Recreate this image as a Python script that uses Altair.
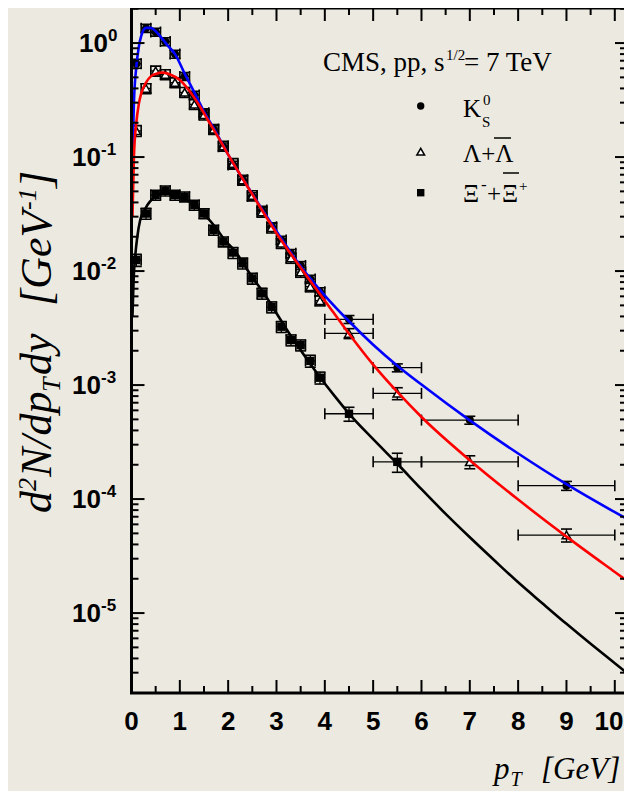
import altair as alt
import pandas as pd

# ---------------- data ----------------
# K0S (filled circles)
k_pt = [0.1, 0.3, 0.5, 0.7, 0.9, 1.1, 1.3, 1.5, 1.7, 1.9, 2.1, 2.3, 2.5, 2.7, 2.9, 3.1, 3.3, 3.5, 3.7, 3.9, 4.5, 5.5, 7.0, 9.0]
k_val = [0.66, 1.35, 1.25, 1.03, 0.80, 0.51, 0.35, 0.245, 0.175, 0.123, 0.085, 0.063, 0.045, 0.0343, 0.0245, 0.0187,
         0.0143, 0.0112, 0.0085, 0.0066, 3.77e-3, 1.42e-3, 4.93e-4, 1.31e-4]
k_dx = [0.1, 0.1, 0.1, 0.1, 0.1, 0.1, 0.1, 0.1, 0.1, 0.1, 0.1, 0.1, 0.1, 0.1, 0.1, 0.1, 0.1, 0.1, 0.1, 0.1, 0.5, 0.5, 1.0, 1.0]
k_rel = [0.09, 0.08, 0.08, 0.08, 0.08, 0.08, 0.08, 0.08, 0.08, 0.08, 0.08, 0.08, 0.08, 0.08, 0.08, 0.08, 0.08, 0.08,
         0.08, 0.08, 0.08, 0.08, 0.08, 0.09]

# Lambda + anti-Lambda (open triangles)
l_pt = [0.1, 0.3, 0.5, 0.7, 0.9, 1.1, 1.3, 1.5, 1.7, 1.9, 2.1, 2.3, 2.5, 2.7, 2.9, 3.1, 3.3, 3.5, 3.7, 3.9, 4.5, 5.5, 7.0, 9.0]
l_val = [0.17, 0.40, 0.57, 0.53, 0.45, 0.37, 0.29, 0.235, 0.175, 0.125, 0.088, 0.063, 0.046, 0.033, 0.024, 0.0175,
         0.013, 0.0098, 0.0073, 0.0055, 2.84e-3, 8.46e-4, 2.12e-4, 4.83e-5]
l_dx = [0.1, 0.1, 0.1, 0.1, 0.1, 0.1, 0.1, 0.1, 0.1, 0.1, 0.1, 0.1, 0.1, 0.1, 0.1, 0.1, 0.1, 0.1, 0.1, 0.1, 0.5, 0.5, 1.0, 1.0]
l_rel = [0.11, 0.10, 0.10, 0.10, 0.10, 0.10, 0.10, 0.10, 0.10, 0.10, 0.10, 0.10, 0.10, 0.10, 0.10, 0.10, 0.10, 0.10,
         0.10, 0.10, 0.10, 0.12, 0.13, 0.13]

# Xi- + anti-Xi+ (filled squares)
x_pt = [0.1, 0.3, 0.5, 0.7, 0.9, 1.1, 1.3, 1.5, 1.7, 1.9, 2.1, 2.3, 2.5, 2.7, 2.9, 3.1, 3.3, 3.5, 3.7, 3.9, 4.5, 5.5]
x_val = [0.0125, 0.032, 0.0464, 0.0506, 0.0464, 0.0449, 0.038, 0.032, 0.0229, 0.0181, 0.0145, 0.0117, 0.00863,
         0.00637, 0.00483, 0.00325, 0.00248, 0.00224, 0.00163, 0.00116, 5.6e-4, 2.12e-4]
x_dx = [0.1, 0.1, 0.1, 0.1, 0.1, 0.1, 0.1, 0.1, 0.1, 0.1, 0.1, 0.1, 0.1, 0.1, 0.1, 0.1, 0.1, 0.1, 0.1, 0.1, 0.5, 0.5]
x_rel = [0.12, 0.11, 0.10, 0.10, 0.10, 0.10, 0.10, 0.10, 0.10, 0.10, 0.11, 0.11, 0.11, 0.11, 0.11, 0.11, 0.11, 0.11,
         0.12, 0.12, 0.14, 0.19]

# fitted curves
blue_pt = [0.02, 0.05, 0.1, 0.15, 0.2, 0.3, 0.4, 0.5, 0.6, 0.75, 0.9, 1.1, 1.3, 1.5, 1.75, 2.0, 2.5, 3.0, 3.5, 4.0,
           4.5, 5.0, 5.5, 6.0, 7.0, 8.0, 9.0, 10.0, 10.34]
blue_val = [0.1, 0.3, 0.62, 0.92, 1.15, 1.36, 1.36, 1.27, 1.14, 0.95, 0.8, 0.54, 0.37, 0.25, 0.165, 0.105, 0.0475,
            0.0224, 0.011, 0.0061, 0.00363, 0.00226, 0.00148, 0.00101, 0.00049, 0.000251, 0.000135, 0.0000767,
            0.0000638]
red_pt = [0.02, 0.05, 0.1, 0.15, 0.2, 0.3, 0.4, 0.5, 0.65, 0.8, 1.0, 1.2, 1.4, 1.6, 1.8, 2.0, 2.5, 3.0, 3.5, 4.0,
          4.5, 5.0, 5.5, 6.0, 7.0, 8.0, 9.0, 10.0, 10.34]
red_val = [0.03, 0.1, 0.2, 0.29, 0.36, 0.45, 0.51, 0.535, 0.55, 0.53, 0.474, 0.38, 0.285, 0.205, 0.148, 0.105,
           0.047, 0.0215, 0.0107, 0.0055, 0.00282, 0.00151, 0.00087, 0.000525, 0.000219, 0.000099, 0.0000468,
           0.0000229, 0.000018]
black_pt = [0.02, 0.05, 0.07, 0.12, 0.18, 0.28, 0.38, 0.5, 0.62, 0.75, 0.9, 1.07, 1.31, 1.52, 1.73, 1.93, 2.14,
            2.5, 2.75, 3.0, 3.3, 3.6, 3.9, 4.2, 4.5, 5.0, 5.5, 6.0, 6.5, 7.0, 7.5, 8.0, 8.5, 9.0, 9.5, 10.0, 10.34]
black_val = [0.004, 0.0095, 0.0125, 0.02, 0.028, 0.035, 0.0406, 0.045, 0.048, 0.0482, 0.0465, 0.0434, 0.0379,
             0.031, 0.0245, 0.0187, 0.015, 0.0088, 0.0063, 0.00427, 0.00269, 0.00176, 0.00117, 0.000804, 0.000562,
             0.000335, 0.000204, 0.000122, 0.0000741, 0.0000462, 0.0000292, 0.0000186, 0.0000122, 0.00000804,
             0.00000537, 0.00000363, 0.00000279]

# axis ticks / labels
x_major = [0, 1, 2, 3, 4, 5, 6, 7, 8, 9]
x_labels = ["0", "1", "2", "3", "4", "5", "6", "7", "8", "9"]
x_last, x_last_label = 10, "10"
x_minor = [0.5, 1.5, 2.5, 3.5, 4.5, 5.5, 6.5, 7.5, 8.5, 9.5]
y_major = [1.0, 0.1, 0.01, 1e-3, 1e-4, 1e-5]
y_exp = ["0", "-1", "-2", "-3", "-4", "-5"]

W, H = 492.5, 685
X_MAX = W / 48.33
Y_MIN, Y_MAX = 1.99e-6, 2.03

y_minor = [m * 10.0 ** e for e in range(-6, 1) for m in range(2, 10) if Y_MIN * 1.02 < m * 10.0 ** e < Y_MAX]

# ---------------- build tables ----------------
def series_df(pt, val, dx, rel, name):
    df = pd.DataFrame({"pt": pt, "val": val, "dx": dx, "rel": rel})
    df["lo"] = df["val"] * (1 - df["rel"])
    df["hi"] = df["val"] * (1 + df["rel"])
    df["xlo"] = df["pt"] - df["dx"]
    df["xhi"] = df["pt"] + df["dx"]
    df["series"] = name
    return df

kdf = series_df(k_pt, k_val, k_dx, k_rel, "K")
ldf = series_df(l_pt, l_val, l_dx, l_rel, "L")
xdf = series_df(x_pt, x_val, x_dx, x_rel, "X")
pts = pd.concat([kdf, ldf, xdf], ignore_index=True)

xs = alt.Scale(domain=[0, X_MAX], nice=False, zero=False)
ys = alt.Scale(type="log", domain=[Y_MIN, Y_MAX], nice=False)


def X(f):
    return alt.X(f, type="quantitative", scale=xs, axis=None)


def Y(f):
    return alt.Y(f, type="quantitative", scale=ys, axis=None)


one = pd.DataFrame({"a": [0]})
SERIF = "Liberation Serif"
SANS = "Liberation Sans"


def txt(s, x, y, size, font=SERIF, style="normal", weight="normal", align="left", angle=0):
    return alt.Chart(one).mark_text(text=s, font=font, fontSize=size, fontStyle=style, fontWeight=weight,
                                    align=align, baseline="alphabetic", angle=angle, color="black").encode(
        x=alt.value(x), y=alt.value(y))


def hline(x1, x2, y, w=1.5):
    return alt.Chart(one).mark_rule(color="black", strokeWidth=w).encode(
        x=alt.value(x1), x2=alt.value(x2), y=alt.value(y))


layers = []

# error bars
base = alt.Chart(pts)
layers.append(base.mark_rule(color="black", strokeWidth=1.3, clip=True).encode(x=X("pt"), y=Y("lo"), y2=alt.Y2("hi")))
layers.append(base.mark_rule(color="black", strokeWidth=1.3, clip=True).encode(x=X("xlo"), x2=alt.X2("xhi"), y=Y("val")))
for f in ["lo", "hi"]:
    layers.append(base.mark_tick(orient="horizontal", size=11, thickness=1.6, color="black", opacity=1, clip=True)
                  .encode(x=X("pt"), y=Y(f)))
for f in ["xlo", "xhi"]:
    layers.append(base.mark_tick(orient="vertical", size=11, thickness=1.6, color="black", opacity=1, clip=True)
                  .encode(x=X(f), y=Y("val")))

# markers
layers.append(alt.Chart(kdf).mark_point(shape="circle", filled=True, color="black", size=64, opacity=1, clip=True)
              .encode(x=X("pt"), y=Y("val")))
layers.append(alt.Chart(ldf).mark_point(shape="triangle-up", filled=True, fill="white", stroke="black",
                                        strokeWidth=1.5, size=75, opacity=1, clip=True)
              .encode(x=X("pt"), y=Y("val")))
layers.append(alt.Chart(xdf).mark_point(shape="square", filled=True, color="black", size=70, opacity=1, clip=True)
              .encode(x=X("pt"), y=Y("val")))

# curves
for cpt, cval, col in [(blue_pt, blue_val, "#0000ff"), (red_pt, red_val, "#ff0000"), (black_pt, black_val, "#000000")]:
    cdf = pd.DataFrame({"pt": cpt, "val": cval})
    layers.append(alt.Chart(cdf).mark_line(color=col, strokeWidth=2.6, clip=True, interpolate="monotone")
                  .encode(x=X("pt"), y=Y("val"), order="pt:Q"))

# frame
layers.append(alt.Chart(one).mark_rule(color="black", strokeWidth=3).encode(x=alt.value(0), y=alt.value(0), y2=alt.value(H)))
layers.append(hline(-1.5, W, H, 3))
layers.append(hline(-1.5, W, 0, 3))

# ticks
ymaj_df = pd.DataFrame({"v": y_major, "e": y_exp})
ymin_df = pd.DataFrame({"v": y_minor})
xmaj_df = pd.DataFrame({"v": x_major + [x_last], "t": x_labels + [x_last_label]})
xlab_df = pd.DataFrame({"v": x_major, "t": x_labels})
xmin_df = pd.DataFrame({"v": x_minor})
tk = dict(color="black", strokeWidth=2)
layers.append(alt.Chart(ymaj_df).mark_rule(**tk).encode(y=Y("v"), x=alt.value(0), x2=alt.value(13)))
layers.append(alt.Chart(ymin_df).mark_rule(**tk).encode(y=Y("v"), x=alt.value(0), x2=alt.value(7)))
layers.append(alt.Chart(ymaj_df).mark_rule(**tk).encode(y=Y("v"), x=alt.value(W - 9), x2=alt.value(W)))
layers.append(alt.Chart(ymin_df).mark_rule(**tk).encode(y=Y("v"), x=alt.value(W - 4), x2=alt.value(W)))
layers.append(alt.Chart(xmaj_df).mark_rule(**tk).encode(x=X("v"), y=alt.value(H - 13), y2=alt.value(H)))
layers.append(alt.Chart(xmin_df).mark_rule(**tk).encode(x=X("v"), y=alt.value(H - 7), y2=alt.value(H)))
layers.append(alt.Chart(xmaj_df).mark_rule(**tk).encode(x=X("v"), y=alt.value(0), y2=alt.value(13)))
layers.append(alt.Chart(xmin_df).mark_rule(**tk).encode(x=X("v"), y=alt.value(0), y2=alt.value(7)))

# tick labels
layers.append(alt.Chart(xlab_df).mark_text(font=SANS, fontWeight="bold", fontSize=26, baseline="alphabetic",
                                           align="center", color="black")
              .encode(x=X("v"), y=alt.value(722), text="t:N"))
layers.append(txt(x_last_label, W - 0.5, 722, 26, font=SANS, weight="bold", align="right"))
ylab = alt.Chart(ymaj_df).transform_calculate(xe="-13.5 - (length(datum.e) > 1 ? 17 : 10)")
layers.append(ylab.mark_text(font=SANS, fontWeight="bold", fontSize=26, baseline="middle", align="right",
                             color="black", dy=1)
              .encode(x=alt.X("xe:Q", scale=None, axis=None), y=Y("v"), text=alt.value("10")))
layers.append(ylab.mark_text(font=SANS, fontWeight="bold", fontSize=17, baseline="middle", align="left",
                             color="black", dy=-7)
              .encode(x=alt.X("xe:Q", scale=None, axis=None), y=Y("v"), text="e:N"))

# y title (rotated, composed)
TX = -81
layers += [
    txt("d", TX, 505, 44, style="italic", angle=270),
    txt("2", TX - 15, 483, 26, style="italic", angle=270),
    txt("N/dp", TX, 469, 44, style="italic", angle=270),
    txt("T", TX + 9, 384, 26, style="italic", angle=270),
    txt("dy", TX, 367, 44, style="italic", angle=270),
    txt("[GeV", TX, 298, 44, style="italic", angle=270),
    txt("-1", TX - 15, 202, 26, style="italic", angle=270),
    txt("]", TX, 180, 44, style="italic", angle=270),
]

# x title
layers += [
    txt("p", 362.5, 771, 31, style="italic"),
    txt("T", 379, 778, 20, style="italic"),
    txt("[GeV]", 409.5, 771, 31, style="italic"),
]

# legend block
layers += [
    txt("CMS, pp, s", 191.5, 62.7, 27),
    txt("1/2", 314.5, 52, 15),
    txt("= 7 TeV", 332.5, 62.7, 27),
    txt("K", 331.5, 108.7, 25),
    txt("0", 351.5, 97, 15),
    txt("S", 350.5, 119, 15),
    txt("\u039b+\u039b", 331.5, 154, 25),
    hline(362.5, 379.5, 130),
    txt("\u039e", 331.5, 193.7, 25),
    txt("-", 349.5, 182, 17),
    txt("+", 355.5, 193.7, 25),
    txt("\u039e", 370.5, 193.7, 25),
    hline(371.5, 387.5, 165),
    txt("+", 387.5, 183, 15),
]
layers.append(alt.Chart(one).mark_point(shape="circle", filled=True, color="black", size=55, opacity=1)
              .encode(x=alt.value(289.2), y=alt.value(98)))
layers.append(alt.Chart(one).mark_point(shape="triangle-up", filled=True, fill="white", stroke="black",
                                        strokeWidth=1.5, size=60, opacity=1)
              .encode(x=alt.value(289.2), y=alt.value(143.7)))
layers.append(alt.Chart(one).mark_point(shape="square", filled=True, color="black", size=55, opacity=1)
              .encode(x=alt.value(289.2), y=alt.value(184.7)))

chart = alt.layer(*layers).properties(
    width=W, height=H,
    autosize=alt.AutoSizeParams(type="none"),
    padding={"left": 123.5, "top": 0, "right": 0, "bottom": 98},
).configure(background="#ECEAE0").configure_view(stroke=None)

chart.save("out.html", embed_options={"renderer": "svg", "actions": False})
